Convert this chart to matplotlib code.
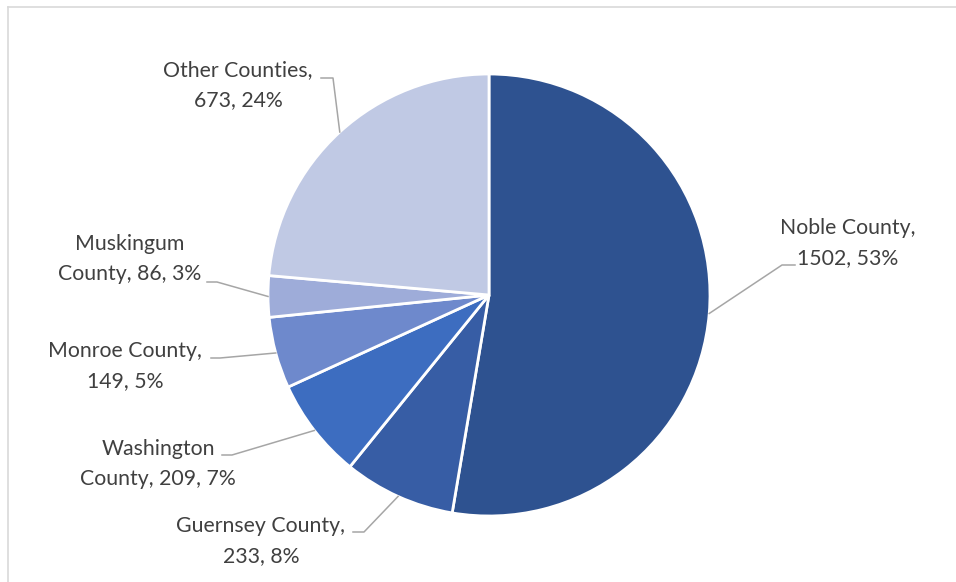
import numpy as np
import matplotlib
matplotlib.use("Agg")
import matplotlib.pyplot as plt

W, H = 956, 582

counties = ["Noble County", "Guernsey County", "Washington County",
            "Monroe County", "Muskingum County", "Other Counties"]
counts = [1502, 233, 209, 149, 86, 673]
label_text = [
    "Noble County,\n1502, 53%",
    "Guernsey County,\n233, 8%",
    "Washington\nCounty, 209, 7%",
    "Monroe County,\n149, 5%",
    "Muskingum\nCounty, 86, 3%",
    "Other Counties,\n673, 24%",
]
colors = ["#2E5290", "#375DA5", "#3D6DC0", "#6E89CC", "#9EACD9", "#C0C9E4"]

# label layout in pixel coords (x, y from top): text centre, elbow start, elbow end
text_pos = [(848, 243), (261, 541), (158, 464), (125, 366), (130, 259), (238, 85)]
elbow = [((795, 265), (782, 265)),
         ((353, 532), (364, 532)),
         ((222, 455), (232, 455)),
         ((211, 358), (220, 358)),
         ((207, 282), (217, 282)),
         ((321, 78), (333, 78))]

CX, CY, R = 489, 295, 221


def px(x, y):
    return x, H - y


fig = plt.figure(figsize=(W / 100, H / 100), dpi=100)
ax = fig.add_axes([0, 0, 1, 1])

wedges, _ = ax.pie(
    counts,
    colors=colors,
    startangle=90,
    counterclock=False,
    center=px(CX, CY),
    radius=R,
    wedgeprops=dict(edgecolor="white", linewidth=2),
    frame=True,
)
ax.set_xlim(0, W)
ax.set_ylim(0, H)
ax.set_aspect("equal")
ax.axis("off")

for w, txt, tp, (e0, e1) in zip(wedges, label_text, text_pos, elbow):
    mid = np.deg2rad((w.theta1 + w.theta2) / 2)
    ex = CX + R * np.cos(mid)
    ey = H - CY + R * np.sin(mid)
    xs = [e0[0], e1[0], ex]
    ys = [H - e0[1], H - e1[1], ey]
    ax.plot(xs, ys, color="#A6A6A6", linewidth=1.1, zorder=1)
    ax.text(*px(*tp), txt, ha="center", va="center", fontsize=15.3,
            family="Lato", color="#404040", linespacing=1.62)

# chart frame (only top and left visible)
ax.plot([8, 8], [0, H - 7], color="#D9D9D9", linewidth=1.2, clip_on=False)
ax.plot([8, W], [H - 7, H - 7], color="#D9D9D9", linewidth=1.2, clip_on=False)

fig.savefig("out.png", dpi=100)
